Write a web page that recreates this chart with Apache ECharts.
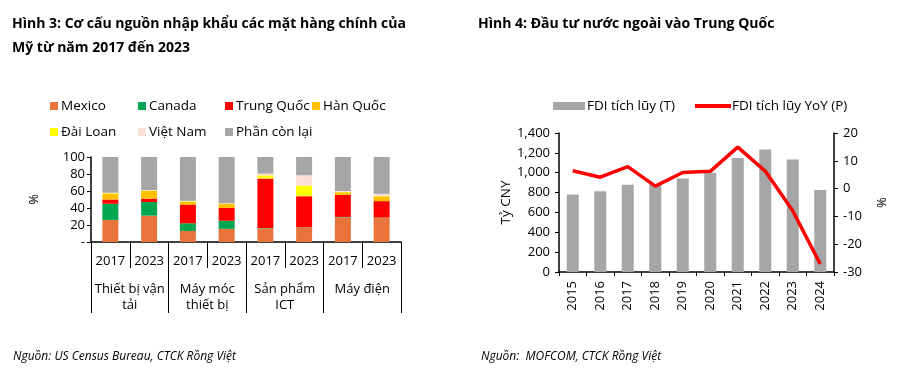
<!DOCTYPE html>
<html><head><meta charset="utf-8">
<script src="https://cdn.jsdelivr.net/npm/echarts@6/dist/echarts.min.js"></script>
<style>html,body{margin:0;padding:0;background:#fff}#c{width:897px;height:378px}</style>
</head><body><div id="c"></div>
<script>
// ---- Figure 3 data ----
const bars3 = ['2017','2023','2017','2023','2017','2023','2017','2023'];
const groups3 = ['Thiết bị vận\ntải','Máy móc\nthiết bị','Sản phẩm\nICT','Máy điện'];
const seriesNames3 = ['Mexico','Canada','Trung Quốc','Hàn Quốc','Đài Loan','Việt Nam','Phần còn lại'];
const mexico   = [26, 31, 13, 15.5, 16, 17, 29, 28.5];
const canada   = [19, 16, 9, 9.5, 0.5, 0.3, 0.5, 0.3];
const china    = [5, 4, 22, 15, 58, 36.5, 26, 19.3];
const korea    = [7, 9, 3.5, 5, 0.5, 0.7, 3, 5.5];
const taiwan   = [0.5, 0.5, 0.5, 0.3, 3.5, 12, 0.5, 0.5];
const vietnam  = [0.5, 0.5, 0.5, 0.3, 2, 12, 1, 2.5];
const others   = [42, 39, 51.5, 54.4, 19.5, 21.5, 40, 43.4];

// ---- Figure 4 data ----
const years4 = ['2015','2016','2017','2018','2019','2020','2021','2022','2023','2024'];
const fdi = [781, 813, 878, 886, 942, 1000, 1149, 1233, 1134, 827];
const yoy = [6.4, 4.1, 7.9, 0.9, 5.8, 6.2, 14.9, 6.3, -8.0, -27.1];

const colors3 = ['#e8743b','#00a650','#ff0000','#ffc000','#ffff00','#fbe0d6','#a6a6a6'];
const vals3 = [mexico, canada, china, korea, taiwan, vietnam, others];
const FONT = 'Open Sans';
const txt = {fontFamily: FONT, fontSize: 13, color: '#000'};

const chart = echarts.init(document.getElementById('c'), null, {renderer: 'canvas'});

const legPos = [[45,94],[133,94],[220,94],[307,94],[45,120],[133,120],[220,120]];
const legends = seriesNames3.map((n, i) => ({
  data: [n], left: legPos[i][0], top: legPos[i][1], itemWidth: 8, itemHeight: 8,
  itemGap: 4, icon: 'rect', textStyle: {fontFamily: FONT, fontSize: 13.5, color: '#000', padding: [0,0,0,-2]},
  selectedMode: false
}));
legends.push({
  data: [{name: 'FDI tích lũy (T)', icon: 'rect'}], left: 548, top: 94, itemWidth: 32, itemHeight: 8,
  selectedMode: false, textStyle: {fontFamily: FONT, fontSize: 13.5, color: '#000', padding:[0,0,0,-3]}
});
legends.push({
  data: [{name: 'FDI tích lũy YoY (P)', icon: 'rect'}], left: 690, top: 94, itemWidth: 36, itemHeight: 4,
  selectedMode: false, textStyle: {fontFamily: FONT, fontSize: 13.5, color: '#000', padding:[0,0,0,-4]}
});

const series = seriesNames3.map((n, i) => ({
  name: n, type: 'bar', stack: 's', xAxisIndex: 0, yAxisIndex: 0, barWidth: 16,
  itemStyle: {color: colors3[i]}, data: vals3[i]
}));
series.push({
  name: 'FDI tích lũy (T)', type: 'bar', xAxisIndex: 2, yAxisIndex: 1, barWidth: 12,
  itemStyle: {color: '#a6a6a6'}, data: fdi
});
series.push({
  name: 'FDI tích lũy YoY (P)', type: 'line', xAxisIndex: 2, yAxisIndex: 2, symbol: 'none',
  lineStyle: {color: '#ff0000', width: 3.5}, itemStyle: {color: '#ff0000'}, data: yoy, z: 5
});

const option = {
  animation: false,
  textStyle: {fontFamily: FONT},
  title: [
    {text: 'Hình 3: Cơ cấu nguồn nhập khẩu các mặt hàng chính của\nMỹ từ năm 2017 đến 2023', left: 7, top: 7,
      textStyle: {fontFamily: FONT, fontSize: 14, fontWeight: 'bold', color: '#000', lineHeight: 24}},
    {text: 'Hình 4: Đầu tư nước ngoài vào Trung Quốc', left: 473, top: 7,
      textStyle: {fontFamily: FONT, fontSize: 14, fontWeight: 'bold', color: '#000', lineHeight: 24}},
    {text: 'Nguồn: US Census Bureau, CTCK Rồng Việt', left: 8, top: 346,
      textStyle: {fontFamily: FONT, fontSize: 12, fontStyle: 'italic', fontWeight: 'normal', color: '#000'}},
    {text: 'Nguồn:  MOFCOM, CTCK Rồng Việt', left: 476, top: 346,
      textStyle: {fontFamily: FONT, fontSize: 12, fontStyle: 'italic', fontWeight: 'normal', color: '#000'}}
  ],
  legend: legends,
  grid: [
    {left: 91, top: 157, width: 310, height: 85},
    {left: 559, top: 133, width: 275, height: 139}
  ],
  xAxis: [
    {type: 'category', gridIndex: 0, data: bars3, position: 'bottom',
      axisLine: {lineStyle: {color: '#000', width: 1.5}},
      axisTick: {show: true, length: 26, interval: 0, lineStyle: {color: '#000'}},
      axisLabel: {...txt, interval: 0, margin: 13}},
    {type: 'category', gridIndex: 0, data: groups3, position: 'bottom',
      axisLine: {show: false},
      axisTick: {show: true, length: 71, interval: 0, lineStyle: {color: '#000'}},
      axisLabel: {...txt, interval: 0, margin: 39, lineHeight: 16}},
    {type: 'category', gridIndex: 1, data: years4,
      axisLine: {lineStyle: {color: '#000', width: 1.5}},
      axisTick: {show: true, length: 4, interval: 0, lineStyle: {color: '#000'}},
      axisLabel: {...txt, interval: 0, rotate: 90, margin: 9}}
  ],
  yAxis: [
    {type: 'value', gridIndex: 0, min: 0, max: 100, interval: 20, name: '%', nameLocation: 'middle', nameGap: 50,
      nameTextStyle: {...txt}, nameRotate: 90,
      axisLine: {show: true, lineStyle: {color: '#000', width: 1.5}},
      axisTick: {show: true, length: 4, lineStyle: {color: '#000'}},
      splitLine: {show: false},
      axisLabel: {...txt, margin: 6, formatter: v => v === 0 ? '-' : String(v)}},
    {type: 'value', gridIndex: 1, min: 0, max: 1400, interval: 200, name: 'Tỷ CNY', nameLocation: 'middle', nameGap: 46,
      nameTextStyle: {...txt, fontSize: 13.5}, nameRotate: 90,
      axisLine: {show: true, lineStyle: {color: '#000', width: 1.5}},
      axisTick: {show: true, length: 4, lineStyle: {color: '#000'}},
      splitLine: {show: false},
      axisLabel: {...txt, margin: 9, formatter: v => v.toLocaleString('en-US')}},
    {type: 'value', gridIndex: 1, min: -30, max: 20, interval: 10, position: 'right', name: '%', nameLocation: 'middle', nameGap: 40,
      nameTextStyle: {...txt}, nameRotate: -90,
      axisLine: {show: true, lineStyle: {color: '#000', width: 1.5}},
      axisTick: {show: true, length: 4, lineStyle: {color: '#000'}},
      splitLine: {show: false},
      axisLabel: {...txt, margin: 9}}
  ],
  series: series
};
chart.setOption(option);
</script></body></html>
